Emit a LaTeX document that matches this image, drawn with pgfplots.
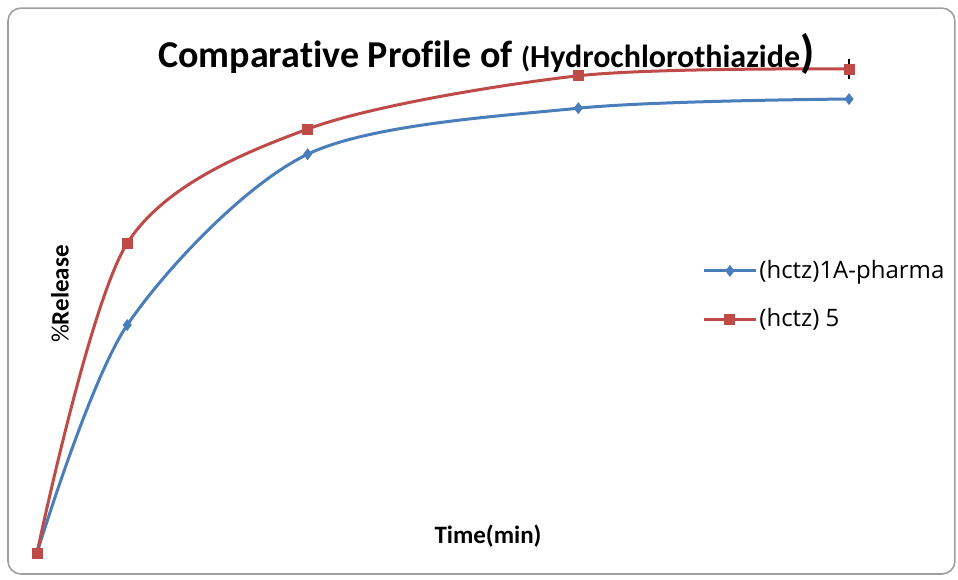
\documentclass[border=0pt]{standalone}
\usepackage{fontspec}
\setmainfont{Carlito}[Ligatures=CommonOff]
\newfontfamily\legfont{Open Sans}
\usepackage{pgfplots}
\pgfplotsset{compat=1.18}
\definecolor{xblue}{HTML}{4A7EBB}
\definecolor{xred}{HTML}{BE4B48}
\begin{document}
\begin{tikzpicture}
\begin{axis}[
  scale only axis, width=479pt, height=289.5pt,
  axis lines=none,
  xmin=-2.0505, xmax=51.04,
  ymin=-5.372, ymax=114.26,
  clip=false,
  legend style={at={(rel axis cs:0.7328,0.4905)}, anchor=west, draw=none, fill=none,
    font=\legfont\fontsize{12}{13}\selectfont, row sep=11.5pt, inner sep=0pt,
    nodes={inner sep=1pt}},
  legend cell align=left,
  legend image code/.code={\draw[mark repeat=2,mark phase=2,#1] plot coordinates {(0pt,0pt) (13pt,0pt) (26pt,0pt)};},
]
\path (rel axis cs:0,0) rectangle (rel axis cs:1,1);
\draw[gray!75, line width=0.8pt, rounded corners=6.5pt] (rel axis cs:0.0083,0.0086) rectangle (rel axis cs:0.9968,0.986);

\addplot[xblue, line width=1.5pt, smooth, mark=diamond*, mark size=2.6pt, mark options={fill=xblue, draw=xblue, line width=0.5pt}]
  coordinates {(0,0) (5,47.1) (15,82.4) (30,91.9) (45,93.8)};
\addlegendentry{(hctz)1A-pharma}
\addplot[xred, line width=1.5pt, smooth, mark=square*, mark size=2.5pt, mark options={fill=xred, draw=xred, line width=0.5pt}]
  coordinates {(0,0) (5,64.0) (15,87.6) (30,98.6) (45,100)};
\addlegendentry{(hctz) 5}
\addplot[draw=none, forget plot, error bars/.cd, y dir=both, y explicit, error mark=none,
  error bar style={black, line width=0.6pt}]
  coordinates {(45,100) +- (0,2.1)};

\node[anchor=base west, inner sep=0pt] at (rel axis cs:0.1649,0.8826)
  {\bfseries\fontsize{19}{22}\selectfont Comparative Profile of {\fontsize{14.5}{16}\selectfont(}{\fontsize{16}{17}\selectfont Hydrochlorothiazide}{\fontsize{23}{24}\selectfont)}};
\node[inner sep=0pt] at (rel axis cs:0.5094,0.0743) {\bfseries\fontsize{12.5}{14}\selectfont Time(min)};
\node[inner sep=0pt, rotate=90] at (rel axis cs:0.0626,0.4922) {\fontsize{12.5}{14}\selectfont\%\textbf{Release}};
\end{axis}
\end{tikzpicture}
\end{document}
